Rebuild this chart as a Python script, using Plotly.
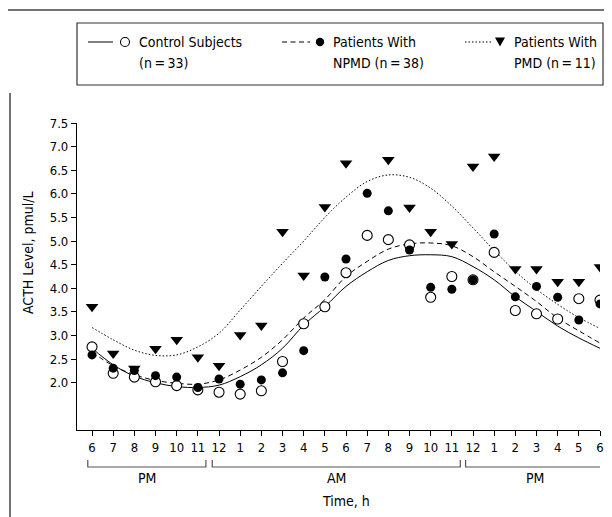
import plotly.graph_objects as go

# ---------------- data ----------------
hours = list(range(25))
hour_labels = ["6", "7", "8", "9", "10", "11", "12", "1", "2", "3", "4", "5",
               "6", "7", "8", "9", "10", "11", "12", "1", "2", "3", "4", "5", "6"]

control = [2.76, 2.20, 2.12, 2.02, 1.94, 1.85, 1.80, 1.76, 1.83, 2.45, 3.25, 3.61,
           4.33, 5.12, 5.03, 4.92, 3.81, 4.25, 4.18, 4.76, 3.53, 3.46, 3.35, 3.78, 3.75]
npmd = [2.59, 2.31, 2.26, 2.15, 2.12, 1.90, 2.08, 1.97, 2.06, 2.21, 2.68, 4.24,
        4.62, 6.01, 5.64, 4.81, 4.02, 3.98, 4.18, 5.15, 3.82, 4.04, 3.81, 3.33, 3.67]
pmd = [3.61, 2.62, 2.30, 2.72, 2.91, 2.54, 2.36, 3.01, 3.21, 5.20, 4.27, 5.72,
       6.65, 7.72, 6.72, 5.71, 5.20, 4.94, 6.58, 6.79, 4.41, 4.41, 4.14, 4.14, 4.45]

control_fit = [2.73, 2.38, 2.14, 2.00, 1.92, 1.90, 1.95, 2.13, 2.38, 2.73, 3.22, 3.61,
               4.04, 4.35, 4.59, 4.69, 4.71, 4.67, 4.46, 4.18, 3.82, 3.51, 3.20, 2.95, 2.73]
npmd_fit = [2.65, 2.36, 2.17, 2.05, 1.99, 1.97, 2.06, 2.27, 2.54, 2.91, 3.37, 3.76,
            4.25, 4.57, 4.83, 4.94, 4.96, 4.90, 4.67, 4.35, 4.04, 3.72, 3.37, 3.10, 2.84]
pmd_fit = [3.17, 2.91, 2.69, 2.58, 2.59, 2.76, 3.05, 3.54, 4.04, 4.53, 5.00, 5.50,
           5.93, 6.26, 6.40, 6.35, 6.12, 5.74, 5.28, 4.80, 4.36, 3.98, 3.66, 3.38, 3.15]

y_ticks = [2.0, 2.5, 3.0, 3.5, 4.0, 4.5, 5.0, 5.5, 6.0, 6.5, 7.0, 7.5]

periods = [("PM", -0.2, 5.38), ("AM", 5.68, 17.4), ("PM", 17.65, 24.2)]

legend_entries = [
    ("Control Subjects", "(n\u2009=\u200933)"),
    ("Patients With", "NPMD (n\u2009=\u200938)"),
    ("Patients With", "PMD (n\u2009=\u200911)"),
]

# ---------------- layout geometry (window pixels) ----------------
OFF = 8                       # default body margin of the html page
WIN_W, WIN_H = 612, 517
W, H = WIN_W - OFF, WIN_H - OFF
PL, PR, PT, PB = 77, 600, 123, 430   # plot area in window pixels
PW, PH = PR - PL, PB - PT

def px(xp):
    return (xp - PL) / PW

def py(yp):
    return (PB - yp) / PH

FONT = "'Liberation Sans Narrow', 'DejaVu Sans Condensed', 'Arial Narrow', sans-serif"

fig = go.Figure()

# fitted curves
fig.add_trace(go.Scatter(x=hours, y=control_fit, mode="lines", line_shape="spline",
                         line=dict(color="black", width=1), hoverinfo="skip"))
fig.add_trace(go.Scatter(x=hours, y=npmd_fit, mode="lines", line_shape="spline",
                         line=dict(color="black", width=1, dash="5px,3.5px"), hoverinfo="skip"))
fig.add_trace(go.Scatter(x=hours, y=pmd_fit, mode="lines", line_shape="spline",
                         line=dict(color="black", width=1, dash="1.5px,2px"), hoverinfo="skip"))

# data points
fig.add_trace(go.Scatter(x=hours, y=control, mode="markers", name="Control Subjects",
                         marker=dict(symbol="circle", size=10, color="white",
                                     line=dict(color="black", width=1.1))))
fig.add_trace(go.Scatter(x=hours, y=pmd, mode="markers", name="PMD",
                         marker=dict(symbol="triangle-down", size=11, color="black",
                                     line=dict(width=0))))
fig.add_trace(go.Scatter(x=hours, y=npmd, mode="markers", name="NPMD",
                         marker=dict(symbol="circle", size=9, color="black",
                                     line=dict(width=0))))

shapes = []
annotations = []

# outer frame lines
shapes.append(dict(type="line", xref="paper", yref="paper",
                   x0=px(0), x1=px(WIN_W + 5), y0=py(10), y1=py(10),
                   line=dict(color="#444", width=1.5)))
shapes.append(dict(type="line", xref="paper", yref="paper",
                   x0=px(10), x1=px(10), y0=py(93), y1=py(WIN_H + 5),
                   line=dict(color="#444", width=1.5)))

# period brackets
yb = py(467)
yt = py(460)
for label, a, b in periods:
    shapes.append(dict(type="path", xref="x", yref="paper",
                       path=f"M {a},{yt} L {a},{yb} L {b},{yb} L {b},{yt}",
                       line=dict(color="#555", width=1.2)))
    annotations.append(dict(x=(a + b) / 2, y=py(478), xref="x", yref="paper",
                            text=label, showarrow=False, xanchor="center", yanchor="middle",
                            font=dict(size=14, color="black", family=FONT)))

annotations.append(dict(x=12, y=py(501), xref="x", yref="paper", text="Time, h",
                        showarrow=False, xanchor="center", yanchor="middle",
                        font=dict(size=14, color="black", family=FONT)))
annotations.append(dict(x=px(28), y=py(253), xref="paper", yref="paper",
                        text="ACTH Level, pmul/L", textangle=-90, showarrow=False,
                        xanchor="center", yanchor="middle",
                        font=dict(size=14, color="black", family=FONT)))

# custom legend box
shapes.append(dict(type="rect", xref="paper", yref="paper",
                   x0=px(77), x1=px(603), y0=py(23), y1=py(85),
                   line=dict(color="#333", width=1.2), fillcolor="white"))
ly1, ly2 = 42, 63
samples = [(88, 113, "solid"), (282, 310, "5px,3.5px"), (465, 491, "1.5px,2px")]
for x0, x1, d in samples:
    shapes.append(dict(type="line", xref="paper", yref="paper",
                       x0=px(x0), x1=px(x1), y0=py(ly1), y1=py(ly1),
                       line=dict(color="black", width=1, dash=d)))
r = 4.5
shapes.append(dict(type="circle", xref="paper", yref="paper",
                   x0=px(125 - r), x1=px(125 + r), y0=py(ly1 + r), y1=py(ly1 - r),
                   line=dict(color="black", width=1.1), fillcolor="white"))
r2 = 4.2
shapes.append(dict(type="circle", xref="paper", yref="paper",
                   x0=px(320 - r2), x1=px(320 + r2), y0=py(ly1 + r2), y1=py(ly1 - r2),
                   line=dict(color="black", width=0), fillcolor="black"))
shapes.append(dict(type="path", xref="paper", yref="paper",
                   path=f"M {px(495)},{py(ly1 - 4.5)} L {px(505)},{py(ly1 - 4.5)} "
                        f"L {px(500)},{py(ly1 + 4.5)} Z",
                   line=dict(color="black", width=0), fillcolor="black"))
text_x = [137, 331, 512]
for (t1, t2), tx in zip(legend_entries, text_x):
    annotations.append(dict(x=px(tx), y=py(ly1), xref="paper", yref="paper", text=t1,
                            showarrow=False, xanchor="left", yanchor="middle",
                            font=dict(size=14, color="black", family=FONT)))
    annotations.append(dict(x=px(tx), y=py(ly2), xref="paper", yref="paper", text=t2,
                            showarrow=False, xanchor="left", yanchor="middle",
                            font=dict(size=14, color="black", family=FONT)))

fig.update_layout(
    width=W, height=H,
    margin=dict(l=PL - OFF, r=WIN_W - PR, t=PT - OFF, b=WIN_H - PB, autoexpand=False),
    paper_bgcolor="white", plot_bgcolor="white",
    showlegend=False,
    font=dict(family=FONT, size=13, color="black"),
    shapes=shapes, annotations=annotations,
    xaxis=dict(range=[-0.71, 24.0], tickmode="array", tickvals=hours, ticktext=hour_labels,
               showgrid=False, zeroline=False, showline=True, linecolor="black", linewidth=1.2,
               ticks="outside", ticklen=5, tickcolor="black", tickwidth=1,
               tickfont=dict(size=13, family=FONT)),
    yaxis=dict(range=[1.0, 7.5], tickmode="array", tickvals=y_ticks,
               ticktext=[f"{v:.1f}" for v in y_ticks],
               showgrid=False, zeroline=False, showline=True, linecolor="black", linewidth=1.2,
               ticks="outside", ticklen=5, tickcolor="black", tickwidth=1,
               tickfont=dict(size=13, family=FONT)),
)

fig.write_html("out.html")
